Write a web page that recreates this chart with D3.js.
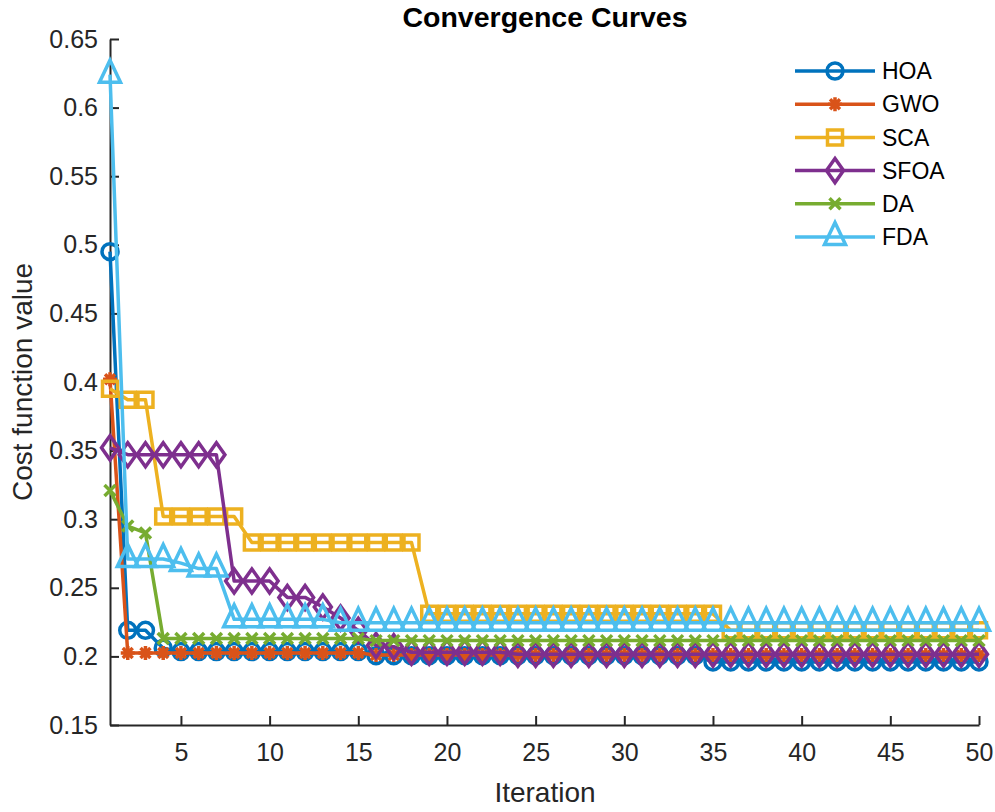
<!DOCTYPE html>
<html lang="en">
<head>
    <meta charset="UTF-8">
    <title>Convergence Curves</title>
    <script src="https://cdnjs.cloudflare.com/ajax/libs/d3/7.8.5/d3.min.js"></script>
    <style>
        body {
            margin: 0;
            background: #ffffff;
            font-family: "Liberation Sans", Arial, Helvetica, sans-serif;
        }
        svg { display: block; }
    </style>
</head>
<body>
    <div id="chart"></div>

    <script>
        // Data (best cost per iteration)
        const iterations = [
            1, 2, 3, 4, 5, 6, 7, 8, 9, 10,
            11, 12, 13, 14, 15, 16, 17, 18, 19, 20,
            21, 22, 23, 24, 25, 26, 27, 28, 29, 30,
            31, 32, 33, 34, 35, 36, 37, 38, 39, 40,
            41, 42, 43, 44, 45, 46, 47, 48, 49, 50
        ];

        const HOA = [
            0.495, 0.219, 0.219, 0.206, 0.2035, 0.2035, 0.2035, 0.2035, 0.2035, 0.2035,
            0.2035, 0.2035, 0.2035, 0.2035, 0.2035, 0.2005, 0.2005, 0.2005, 0.2005, 0.2005,
            0.2005, 0.2005, 0.2005, 0.2005, 0.2005, 0.2005, 0.2005, 0.2005, 0.2005, 0.2005,
            0.2005, 0.2005, 0.2005, 0.2005, 0.196, 0.196, 0.196, 0.196, 0.196, 0.196,
            0.196, 0.196, 0.196, 0.196, 0.196, 0.196, 0.196, 0.196, 0.196, 0.196
        ];
        const GWO = [
            0.402, 0.2025, 0.2025, 0.2025, 0.2025, 0.2025, 0.2025, 0.2025, 0.2025, 0.2025,
            0.2025, 0.2025, 0.2025, 0.2025, 0.2025, 0.201, 0.201, 0.201, 0.201, 0.201,
            0.201, 0.201, 0.201, 0.201, 0.201, 0.201, 0.201, 0.201, 0.201, 0.201,
            0.201, 0.201, 0.201, 0.201, 0.201, 0.201, 0.201, 0.201, 0.201, 0.201,
            0.201, 0.201, 0.201, 0.201, 0.201, 0.201, 0.201, 0.201, 0.201, 0.201
        ];
        const SCA = [
            0.395, 0.387, 0.387, 0.302, 0.302, 0.302, 0.302, 0.302, 0.283, 0.283,
            0.283, 0.283, 0.283, 0.283, 0.283, 0.283, 0.283, 0.283, 0.231, 0.231,
            0.231, 0.231, 0.231, 0.231, 0.231, 0.231, 0.231, 0.231, 0.231, 0.231,
            0.231, 0.231, 0.231, 0.231, 0.231, 0.219, 0.219, 0.219, 0.219, 0.219,
            0.219, 0.219, 0.219, 0.219, 0.219, 0.219, 0.219, 0.219, 0.219, 0.219
        ];
        const SFOA = [
            0.352, 0.347, 0.347, 0.347, 0.347, 0.347, 0.347, 0.255, 0.255, 0.255,
            0.243, 0.243, 0.236, 0.228, 0.219, 0.208, 0.207, 0.203, 0.203, 0.203,
            0.203, 0.203, 0.203, 0.2015, 0.2015, 0.2015, 0.2015, 0.2015, 0.2015, 0.2015,
            0.2015, 0.2015, 0.2015, 0.2015, 0.2015, 0.2015, 0.2015, 0.2015, 0.2015, 0.2015,
            0.2015, 0.2015, 0.2015, 0.2015, 0.2015, 0.2015, 0.2015, 0.2015, 0.2015, 0.2015
        ];
        const DA = [
            0.321, 0.295, 0.29, 0.213, 0.213, 0.213, 0.213, 0.213, 0.213, 0.213,
            0.213, 0.213, 0.213, 0.213, 0.213, 0.2115, 0.2115, 0.2115, 0.2115, 0.2115,
            0.2115, 0.2115, 0.2115, 0.2115, 0.2115, 0.2115, 0.2115, 0.2115, 0.2115, 0.2115,
            0.2115, 0.2115, 0.2115, 0.2115, 0.2115, 0.2115, 0.2115, 0.2115, 0.2115, 0.2115,
            0.2115, 0.2115, 0.2115, 0.2115, 0.2115, 0.2115, 0.2115, 0.2115, 0.2115, 0.2115
        ];
        const FDA = [
            0.624, 0.271, 0.271, 0.271, 0.268, 0.264, 0.264, 0.227, 0.227, 0.227,
            0.227, 0.227, 0.227, 0.2245, 0.2245, 0.2245, 0.2245, 0.2245, 0.2245, 0.2245,
            0.2245, 0.2245, 0.2245, 0.2245, 0.2245, 0.2245, 0.2245, 0.2245, 0.2245, 0.2245,
            0.2245, 0.2245, 0.2245, 0.2245, 0.2245, 0.2245, 0.2245, 0.2245, 0.2245, 0.2245,
            0.2245, 0.2245, 0.2245, 0.2245, 0.2245, 0.2245, 0.2245, 0.2245, 0.2245, 0.2245
        ];

        const seriesNames = ["HOA", "GWO", "SCA", "SFOA", "DA", "FDA"];
        const seriesValues = [HOA, GWO, SCA, SFOA, DA, FDA];
        const seriesColors = ["#0072BD", "#D95319", "#EDB120", "#7E2F8E", "#77AC30", "#4DBEEE"];
        const seriesMarkers = ["circle", "asterisk", "square", "diamond", "cross", "triangle"];

        const xTicks = [5, 10, 15, 20, 25, 30, 35, 40, 45, 50];
        const yTicks = [0.15, 0.2, 0.25, 0.3, 0.35, 0.4, 0.45, 0.5, 0.55, 0.6, 0.65];

        // Layout
        const width = 995;
        const height = 812;
        const axisColor = "#262626";
        const lineW = 3.5;

        const x = d3.scaleLinear().domain([1, 50]).range([110, 979]);
        const y = d3.scaleLinear().domain([0.15, 0.65]).range([725, 39]);

        const svg = d3.select("#chart")
            .append("svg")
            .attr("width", width)
            .attr("height", height);

        svg.append("rect")
            .attr("width", width)
            .attr("height", height)
            .attr("fill", "#ffffff");

        // Marker shapes, centered on 0,0
        function markerPath(type) {
            const p = d3.path();
            if (type === "circle") {
                p.arc(0, 0, 8, 0, 2 * Math.PI);
                p.closePath();
            } else if (type === "asterisk") {
                const r = 7, d = r * Math.SQRT1_2;
                p.moveTo(-r, 0); p.lineTo(r, 0);
                p.moveTo(0, -r); p.lineTo(0, r);
                p.moveTo(-d, -d); p.lineTo(d, d);
                p.moveTo(-d, d); p.lineTo(d, -d);
            } else if (type === "square") {
                p.rect(-7.5, -7.5, 15, 15);
            } else if (type === "diamond") {
                p.moveTo(0, -12); p.lineTo(8.5, 0); p.lineTo(0, 12); p.lineTo(-8.5, 0);
                p.closePath();
            } else if (type === "cross") {
                const r = 5.5;
                p.moveTo(-r, -r); p.lineTo(r, r);
                p.moveTo(-r, r); p.lineTo(r, -r);
            } else if (type === "triangle") {
                p.moveTo(0, -14.5); p.lineTo(10.5, 7.5); p.lineTo(-10.5, 7.5);
                p.closePath();
            }
            return p.toString();
        }

        // Axes
        const xAxis = d3.axisBottom(x)
            .tickValues(xTicks)
            .tickSizeInner(-9)
            .tickSizeOuter(0)
            .tickPadding(20);

        const yAxis = d3.axisLeft(y)
            .tickValues(yTicks)
            .tickFormat(d3.format("~g"))
            .tickSizeInner(-9)
            .tickSizeOuter(0)
            .tickPadding(20);

        const gx = svg.append("g")
            .attr("transform", `translate(0, ${y(0.15)})`)
            .call(xAxis);

        const gy = svg.append("g")
            .attr("transform", `translate(${x(1)}, 0)`)
            .call(yAxis);

        [gx, gy].forEach(g => {
            g.select(".domain").attr("stroke", axisColor).attr("stroke-width", 2);
            g.selectAll(".tick line").attr("stroke", axisColor).attr("stroke-width", 2);
            g.selectAll(".tick text")
                .attr("fill", axisColor)
                .style("font-family", "'Liberation Sans', Arial, sans-serif")
                .style("font-size", "25px");
        });
        gy.selectAll(".tick text").attr("x", -12);
        gx.selectAll(".tick text").attr("y", 18);

        // Lines and markers
        const line = d3.line()
            .x((d, i) => x(iterations[i]))
            .y(d => y(d));

        seriesValues.forEach((values, k) => {
            const g = svg.append("g");
            g.append("path")
                .datum(values)
                .attr("d", line)
                .attr("fill", "none")
                .attr("stroke", seriesColors[k])
                .attr("stroke-width", lineW)
                .attr("stroke-linejoin", "round");

            g.selectAll("path.marker")
                .data(values)
                .join("path")
                .attr("class", "marker")
                .attr("transform", (d, i) => `translate(${x(iterations[i])}, ${y(d)})`)
                .attr("d", markerPath(seriesMarkers[k]))
                .attr("fill", "none")
                .attr("stroke", seriesColors[k])
                .attr("stroke-width", lineW);
        });

        // Legend
        const legend = svg.append("g").attr("transform", "translate(795, 71)");
        seriesNames.forEach((name, k) => {
            const row = legend.append("g").attr("transform", `translate(0, ${k * 33.2})`);
            row.append("line")
                .attr("x1", 0).attr("x2", 80)
                .attr("stroke", seriesColors[k])
                .attr("stroke-width", lineW);
            row.append("path")
                .attr("transform", "translate(40, 0)")
                .attr("d", markerPath(seriesMarkers[k]))
                .attr("fill", "none")
                .attr("stroke", seriesColors[k])
                .attr("stroke-width", lineW);
            row.append("text")
                .attr("x", 87)
                .attr("dy", "0.36em")
                .attr("fill", "#000000")
                .style("font-size", "23px")
                .text(name);
        });

        // Titles
        svg.append("text")
            .attr("x", 545)
            .attr("y", 27)
            .attr("text-anchor", "middle")
            .attr("fill", "#000000")
            .style("font-size", "28.5px")
            .style("font-weight", "bold")
            .text("Convergence Curves");

        svg.append("text")
            .attr("x", 545)
            .attr("y", 802)
            .attr("text-anchor", "middle")
            .attr("fill", axisColor)
            .style("font-size", "28px")
            .text("Iteration");

        svg.append("text")
            .attr("transform", "translate(32, 382) rotate(-90)")
            .attr("text-anchor", "middle")
            .attr("fill", axisColor)
            .style("font-size", "28px")
            .text("Cost function value");
    </script>
</body>
</html>
